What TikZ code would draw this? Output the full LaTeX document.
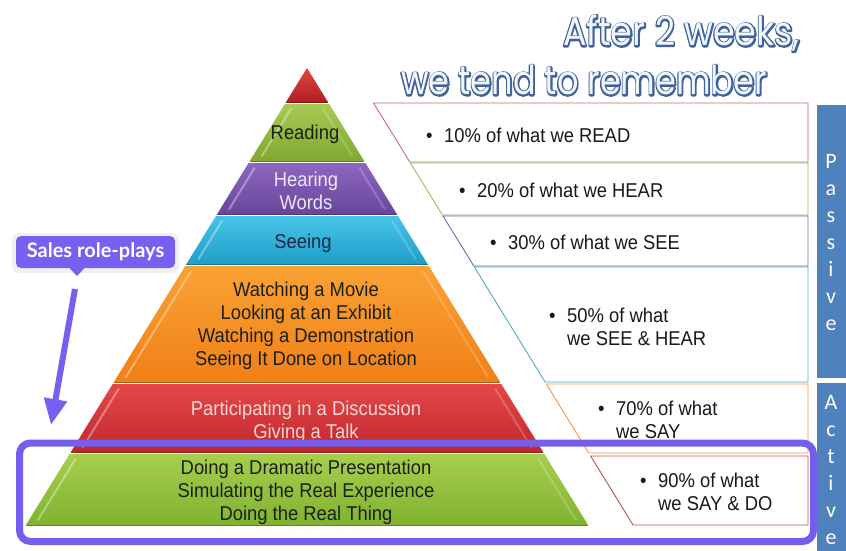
\documentclass[tikz,border=0pt]{standalone}
\usepackage{fontspec}
\usetikzlibrary{arrows.meta}
\setmainfont{Liberation Sans}
\newfontfamily\pyrfont{Liberation Sans}[FakeStretch=0.92]
\newfontfamily\titlefontA{Poppins}[FakeStretch=0.875]
\newfontfamily\titlefontB{Poppins}[FakeStretch=0.84]
\newfontfamily\callfont{Lato}
\newfontfamily\sidefont{Carlito}
\definecolor{apexT}{RGB}{222,72,62}\definecolor{apexB}{RGB}{178,30,36}
\definecolor{readT}{RGB}{168,202,84}\definecolor{readB}{RGB}{128,168,48}
\definecolor{purpT}{RGB}{142,102,192}\definecolor{purpB}{RGB}{104,70,156}
\definecolor{cyanT}{RGB}{72,196,232}\definecolor{cyanB}{RGB}{30,158,200}
\definecolor{oranT}{RGB}{250,162,52}\definecolor{oranB}{RGB}{240,128,24}
\definecolor{redT}{RGB}{228,72,72}\definecolor{redB}{RGB}{192,40,46}
\definecolor{grnT}{RGB}{168,206,78}\definecolor{grnB}{RGB}{128,178,48}
\definecolor{rowA}{RGB}{196,110,110}\definecolor{rowB}{RGB}{155,187,89}
\definecolor{rowC}{RGB}{128,100,162}\definecolor{rowD}{RGB}{75,172,198}
\definecolor{rowE}{RGB}{247,150,70}\definecolor{rowF}{RGB}{192,80,77}
\definecolor{txtdark}{RGB}{28,32,20}\definecolor{txtlav}{RGB}{236,230,246}
\definecolor{txtnavy}{RGB}{24,38,66}\definecolor{txtpink}{RGB}{250,214,214}
\definecolor{tabtext}{RGB}{25,25,25}
\definecolor{ttlfill}{RGB}{242,247,253}
\definecolor{callpurple}{RGB}{118,96,240}
\definecolor{hlpurple}{RGB}{116,94,238}
\definecolor{sideblue}{RGB}{79,129,189}
\newcommand{\outlined}[1]{\textcolor{ttlfill}{\rlap{\special{pdf:literal direct 0.25 0.38 0.6 RG 3 w 1 j 1 Tr}#1\special{pdf:literal direct 0 Tr}}#1}}
\newcommand{\pyrlayer}[4]{%
 \pgfmathsetmacro\pyTL{307-0.615*(#1-68)}%
 \pgfmathsetmacro\pyTR{307+0.615*(#1-68)}%
 \pgfmathsetmacro\pyBL{307-0.615*(#2-68)}%
 \pgfmathsetmacro\pyBR{307+0.615*(#2-68)}%
 \shade[top color=#3,bottom color=#4] (\pyTL,#1) -- (\pyTR,#1) -- (\pyBR,#2) -- (\pyBL,#2) -- cycle;
 \draw[#4!75!black, line width=0.9pt] (\pyBL,#2) -- (\pyBR,#2);
}
\newcommand{\pyrshine}[2]{%
 \pgfmathsetmacro\shAx{307-0.615*(#1+5-68)+9}%
 \pgfmathsetmacro\shBx{307-0.615*(#2-5-68)+9}%
 \pgfmathsetmacro\shCx{307+0.615*(#1+5-68)-9}%
 \pgfmathsetmacro\shDx{307+0.615*(#2-5-68)-9}%
 \draw[white, opacity=0.35, line width=2pt, line cap=round] (\shBx,#2-5) -- (\shAx,#1+5);
 \draw[white, opacity=0.2, line width=2pt, line cap=round] (\shDx,#2-5) -- (\shCx,#1+5);
}
\newcommand{\tabrow}[3]{%
 \pgfmathsetmacro\tbA{352+0.615*(#1-68)}%
 \pgfmathsetmacro\tbB{352+0.615*(#2-68)}%
 \draw[#3, line width=0.9pt, fill=white] (\tbA,#1) -- (808,#1) -- (808,#2) -- (\tbB,#2) -- cycle;
}
\newcommand{\bl}{\makebox[18pt][l]{•}}
\newcommand{\nobl}{\hspace*{18pt}}
\begin{document}
\begin{tikzpicture}[x=1pt,y=-1pt,
  pyrtext/.style={font=\pyrfont\fontsize{20}{23}\selectfont, align=center, inner sep=0},
  tabtxt/.style={font=\pyrfont\fontsize{20}{23}\selectfont, align=left, anchor=west, inner sep=0, text=tabtext},
  sidetext/.style={font=\sidefont\fontsize{22}{27}\selectfont, align=center, inner sep=0, text=white}]
\useasboundingbox (0,0) rectangle (846,551);
\fill[white] (0,0) rectangle (846,551);
% title
\node[font=\titlefontA\fontsize{40}{44}\selectfont, inner sep=0, anchor=base east] (title1) at (800,46) {\outlined{After 2 weeks,}};
\node[font=\titlefontB\fontsize{40}{44}\selectfont, inner sep=0, anchor=base west] (title2) at (401,95) {\outlined{we tend to remember}};
% pyramid
\pyrlayer{68}{102}{apexT}{apexB}
\pyrlayer{104}{161}{readT}{readB}
\pyrlayer{163}{214}{purpT}{purpB}
\pyrlayer{216}{264}{cyanT}{cyanB}
\pyrlayer{266}{382}{oranT}{oranB}
\pyrlayer{384}{452}{redT}{redB}
\pyrlayer{454}{525}{grnT}{grnB}
\pyrshine{104}{161}
\pyrshine{163}{214}
\pyrshine{216}{264}
\pyrshine{266}{382}
\pyrshine{384}{452}
\pyrshine{454}{525}
\node[pyrtext, text=txtdark] (reading) at (305,134) {Reading};
\node[pyrtext, text=txtlav] (hearing) at (306,191) {Hearing\\Words};
\node[pyrtext, text=txtnavy] (seeing) at (303,243) {Seeing};
\node[pyrtext, text=txtdark] (watching) at (306,326) {Watching a Movie\\Looking at an Exhibit\\Watching a Demonstration\\Seeing It Done on Location};
\node[pyrtext, text=txtpink] (partic) at (306,422) {Participating in a Discussion\\Giving a Talk};
\node[pyrtext, text=txtdark] (doing) at (306,492) {Doing a Dramatic Presentation\\Simulating the Real Experience\\Doing the Real Thing};
% table
\tabrow{103}{162}{rowA}
\tabrow{163}{215}{rowB}
\tabrow{216}{266}{rowC}
\tabrow{267}{382}{rowD}
\tabrow{384}{453}{rowE}
\tabrow{456}{525}{rowF}
\node[tabtxt] (t1) at (426,135) {\bl 10\% of what we READ};
\node[tabtxt] (t2) at (459,190) {\bl 20\% of what we HEAR};
\node[tabtxt] (t3) at (490,242) {\bl 30\% of what we SEE};
\node[tabtxt] (t4) at (549,327) {\bl 50\% of what\\\nobl we SEE \& HEAR};
\node[tabtxt] (t5) at (598,420) {\bl 70\% of what\\\nobl we SAY};
\node[tabtxt] (t6) at (640,492) {\bl 90\% of what\\\nobl we SAY \& DO};
% side bar
\fill[sideblue] (817,105) rectangle (846,378);
\fill[sideblue] (817,383) rectangle (846,551);
\node[sidetext] (passive) at (831,243) {P\\a\\s\\s\\i\\v\\e};
\node[sidetext] (active) at (831,470) {A\\c\\t\\i\\v\\e};
% callout
\fill[black, opacity=0.06, rounded corners=7pt] (12,233) rectangle (179,273);
\node[fill=callpurple, text=white, rounded corners=5pt, font=\callfont\bfseries\fontsize{20}{22}\selectfont, minimum width=159pt, minimum height=32pt, inner sep=0] (sales) at (95.5,252) {Sales role-plays};
\fill[callpurple] (69,267.5) -- (85,267.5) -- (77,276) -- cycle;
\coordinate (arrS) at (75,289);
\coordinate (arrE) at (51,425);
\draw[callpurple, line width=6pt, -{Triangle[width=22pt,length=26pt]}] (arrS) -- (arrE);
% highlight
\draw[hlpurple, line width=7pt, rounded corners=11pt] (19.5,443) rectangle (813.5,541.5);
\end{tikzpicture}
\end{document}
